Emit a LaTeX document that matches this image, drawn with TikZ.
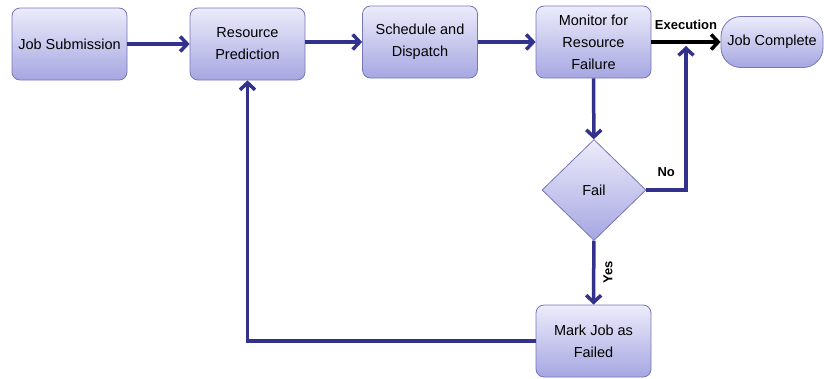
\documentclass[tikz,border=0pt]{standalone}
\usepackage{fontspec}
\setmainfont{Liberation Sans}
\usetikzlibrary{shapes.geometric,arrows.meta}

\definecolor{boxtop}{HTML}{ECECFB}
\definecolor{boxbot}{HTML}{A6A6E2}
\definecolor{boxline}{HTML}{7676B6}
\definecolor{flowblue}{HTML}{32328C}

\begin{document}
\begin{tikzpicture}[x=1pt,y=-1pt,
    stepbox/.style={draw=boxline,line width=0.8pt,rounded corners=8pt,
      top color=boxtop,bottom color=boxbot,minimum width=115pt,
      minimum height=72pt,align=center,font=\fontsize{14.5}{22}\selectfont},
    endbox/.style={stepbox,rounded corners=20pt,minimum width=102pt,minimum height=51pt},
    decision/.style={diamond,draw=boxline,line width=0.8pt,top color=boxtop,
      bottom color=boxbot,minimum width=104pt,minimum height=101pt,inner sep=0pt,
      font=\fontsize{14.5}{16}\selectfont},
    flow/.style={draw=flowblue,line width=3.5pt,-{Straight Barb[length=7pt,width=15pt]}},
    tag/.style={font=\bfseries\fontsize{13}{15}\selectfont}]

  \useasboundingbox (0,0) rectangle (824,378);

  % top row
  \node[stepbox] (submit) at (69.5,44) {Job Submission};
  \node[stepbox] (predict) at (247.5,44) {Resource\\Prediction};
  \node[stepbox] (dispatch) at (420,42) {Schedule and\\Dispatch};
  \node[stepbox] (monitor) at (593.5,42) {Monitor for\\Resource\\Failure};
  \node[endbox] (complete) at (772,42) {Job Complete};

  % failure branch
  \node[decision] (fail) at (594,190) {Fail};
  \node[stepbox] (mark) at (593.5,341) {Mark Job as\\Failed};
  \coordinate (rejoin) at (686,46);

  \draw[flow] (submit) -- (predict);
  \draw[flow] (predict.east |- dispatch) -- (dispatch);
  \draw[flow] (dispatch) -- (monitor);
  \draw[flow,draw=black] (monitor) -- (complete)
    node[tag,midway,above=7pt] {Execution};
  \draw[flow] (monitor) -- (fail);
  \draw[flow] (fail.east) -| (rejoin)
    node[tag,pos=0.25,above=8pt] {No};
  \draw[flow] (fail) -- (mark)
    node[tag,midway,rotate=90,anchor=north,inner sep=8pt] {Yes};
  \draw[flow] (mark.west) -| (predict.south);

\end{tikzpicture}
\end{document}
